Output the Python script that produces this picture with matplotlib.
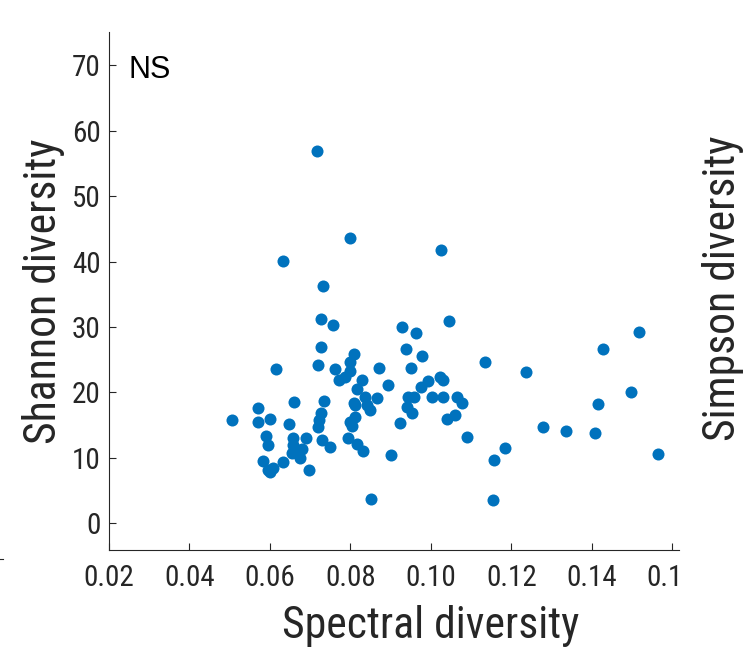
import matplotlib.pyplot as plt
from matplotlib.lines import Line2D
from matplotlib.transforms import Bbox, TransformedBbox

# spectral diversity vs Shannon diversity
spectral = [
    0.0507, 0.0570, 0.0570, 0.0600, 0.0615, 0.0590, 0.0596, 0.0582, 0.0596, 0.0607,
    0.0600, 0.0632, 0.0660, 0.0648, 0.0658, 0.0657, 0.0654, 0.0675, 0.0679, 0.0690,
    0.0697, 0.0727, 0.0720, 0.0763, 0.0772, 0.0735, 0.0727, 0.0723, 0.0719, 0.0729,
    0.0750, 0.0929, 0.0963, 0.1045, 0.0938, 0.0978, 0.0950, 0.0870, 0.0810, 0.0799,
    0.0798, 0.0787, 0.0830, 0.0817, 0.0894, 0.0837, 0.0866, 0.0810, 0.0812, 0.0841,
    0.0849, 0.0812, 0.0798, 0.0803, 0.0795, 0.0816, 0.0831, 0.0901, 0.0851, 0.0976,
    0.0994, 0.1023, 0.1030, 0.0944, 0.0957, 0.1004, 0.1031, 0.1064, 0.1077, 0.0940,
    0.0953, 0.0923, 0.1060, 0.1041, 0.1089, 0.1135, 0.1237, 0.1429, 0.1517, 0.1497,
    0.1415, 0.1278, 0.1336, 0.1408, 0.1185, 0.1156, 0.1564, 0.1155, 0.0717, 0.0799,
    0.0632, 0.1025, 0.0733, 0.0727, 0.0757,
]
shannon = [
    15.74, 17.62, 15.53, 15.94, 23.54, 13.39, 11.97, 9.52, 8.15, 8.50,
    7.89, 9.32, 18.49, 15.18, 13.08, 11.97, 10.70, 9.93, 11.31, 13.08,
    8.15, 26.90, 24.24, 23.54, 21.90, 18.74, 16.90, 15.79, 14.67, 12.73,
    11.62, 30.00, 29.13, 30.96, 26.59, 25.52, 23.69, 23.69, 25.87, 24.65,
    23.32, 22.41, 21.90, 20.48, 21.09, 19.35, 19.10, 18.34, 18.08, 18.08,
    17.32, 16.20, 15.53, 14.92, 13.08, 12.12, 11.10, 10.48, 3.71, 20.88,
    21.75, 22.41, 21.90, 19.26, 19.26, 19.26, 19.26, 19.26, 18.34, 17.82,
    16.81, 15.38, 16.55, 15.89, 13.24, 24.65, 23.08, 26.69, 29.19, 20.02,
    18.19, 14.76, 14.11, 13.85, 11.51, 9.63, 10.59, 3.61, 56.85, 43.65,
    40.04, 41.77, 36.31, 31.18, 30.35,
]

x_ticks = [0.02, 0.04, 0.06, 0.08, 0.10, 0.12, 0.14, 0.16]
x_tick_labels = ["0.02", "0.04", "0.06", "0.08", "0.10", "0.12", "0.14", "0.16"]
y_ticks = [0, 10, 20, 30, 40, 50, 60, 70]

ink = "#262626"
narrow = ["Roboto Condensed", "Archivo Narrow", "DejaVu Sans"]

fig = plt.figure(figsize=(7.44, 6.56), dpi=100)
ax = fig.add_axes([109 / 744, 1 - 550 / 656, 570 / 744, 517.7 / 656])

ax.scatter(spectral, shannon, s=75, color="#0072BD", linewidths=0, zorder=3)

ax.set_xlim(0.02, 0.1617)
ax.set_ylim(-4.08, 75.04)
ax.set_xticks(x_ticks)
ax.set_xticklabels(x_tick_labels)
ax.set_yticks(y_ticks)

for side in ["top", "right"]:
    ax.spines[side].set_visible(False)
for side in ["left", "bottom"]:
    ax.spines[side].set_color(ink)
    ax.spines[side].set_linewidth(0.8)

ax.tick_params(direction="in", length=5, width=0.8, color=ink, labelcolor=ink)
ax.tick_params(axis="x", pad=10)
ax.tick_params(axis="y", pad=6)
for label in ax.get_xticklabels() + ax.get_yticklabels():
    label.set_family(narrow)
    label.set_fontsize(21)

# last x tick label is cut at the right edge of the axes, like the reference
clip = TransformedBbox(Bbox([[0, 0], [680 / 744, 1]]), fig.transFigure)
last = ax.get_xticklabels()[-1]
last.set_clip_box(clip)
last.set_clip_on(True)

ax.set_xlabel("Spectral diversity", family=narrow, fontsize=31.5, color=ink)
ax.xaxis.set_label_coords((430.5 - 109) / 570, -0.106)
ax.set_ylabel("Shannon diversity", family=narrow, fontsize=31.5, color=ink)
ax.yaxis.set_label_coords(-0.077, 0.5)

ax.text((735 - 109) / 570, 0.505, "Simpson diversity", transform=ax.transAxes,
        rotation=90, rotation_mode="anchor", ha="center", va="baseline",
        family=narrow, fontsize=31.5, color=ink, clip_on=False)

ax.text(0.035, 0.912, "NS", transform=ax.transAxes, ha="left", va="baseline",
        family=["Liberation Sans", "DejaVu Sans"], fontsize=22, color="black")

# stray tick fragment at the far left edge
fig.add_artist(Line2D([0, 3 / 744], [1 - 559 / 656] * 2, color=ink, lw=0.8))

fig.savefig("out.png", dpi=100)
